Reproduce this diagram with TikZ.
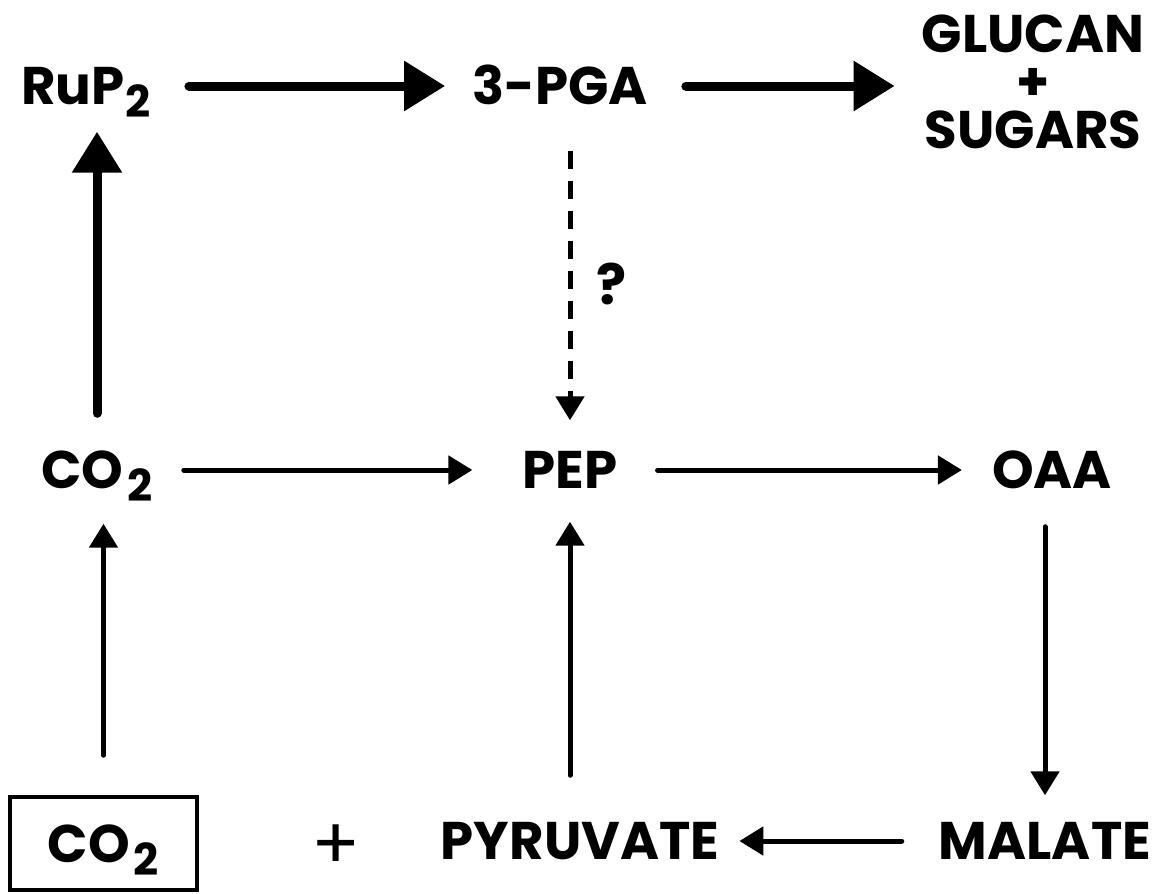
\documentclass[tikz,border=0pt]{standalone}
\usepackage{fontspec}
\setmainfont{Poppins}
\usepackage{tikz}
\usetikzlibrary{arrows.meta}
\newcommand{\subtwo}{\raisebox{-13pt}{\fontsize{44}{44}\selectfont 2}}

\begin{document}
\begin{tikzpicture}[x=1pt,y=-1pt]
    \tikzstyle{every node}=[font=\fontsize{53}{48}\selectfont\bfseries, inner sep=0pt]
    \tikzstyle{species}=[text height=37pt, text depth=0pt]
    \tikzstyle{flux}=[line width=5pt, line cap=round, -{Triangle[length=24pt,width=28pt]}, shorten <=38pt, shorten >=27pt]
    \tikzstyle{bigflux}=[line width=9pt, line cap=round, -{Triangle[length=41pt,width=48pt]}, shorten <=38pt, shorten >=27pt]
    \useasboundingbox (0,0) rectangle (1168,894);
    % top row
    \node[species] (rup) at (86,86) {RuP\kern1pt\subtwo};
    \node[species] (pga) at (560,86) {3-PGA};
    \node[align=center] (glu) at (1033,82) {GLUCAN\\+\\SUGARS};
    % middle row
    \node[species] (co2) at (97,470) {CO\kern4pt\subtwo};
    \node[species] (pep) at (570,470) {PEP};
    \node[species] (oaa) at (1052,470) {OAA};
    % bottom row
    \node[species, draw, line width=3.5pt, minimum width=187pt, minimum height=93pt] (box) at (103.5,843.5) {CO\kern4pt\subtwo};
    \node[font=\fontsize{72}{72}\selectfont] (plus) at (336,847) {+};
    \node[species] (pyr) at (580,841) {PYRUVATE};
    \node[species] (mal) at (1045,841) {MALATE};
    \node[font=\fontsize{56}{56}\selectfont\bfseries] (q) at (612,284) {?};
    % carbon flow
    \draw[bigflux] (rup) -- (pga);
    \draw[bigflux] (pga) -- (pga -| glu.west);
    \draw[bigflux] (co2.north) -- (co2.north |- rup.south);
    \draw[flux, dash pattern=on 18pt off 12pt, line cap=butt, shorten <=46pt, shorten >=31pt] (pga.south -| pep) -- (pep.north);
    \draw[flux, shorten <=31pt, shorten >=50pt] (co2) -- (pep);
    \draw[flux, shorten <=40pt, shorten >=30pt] (pep) -- (oaa);
    \draw[flux] (oaa.south -| mal) -- (mal.north);
    \draw[flux, shorten <=37pt, shorten >=20pt] (mal) -- (pyr);
    \draw[flux, shorten <=47pt, shorten >=33pt] (pyr.north -| pep) -- (pep.south);
    \draw[flux, shorten <=40pt, shorten >=35pt] (box.north) -- (box.north |- co2.south);
\end{tikzpicture}
\end{document}
